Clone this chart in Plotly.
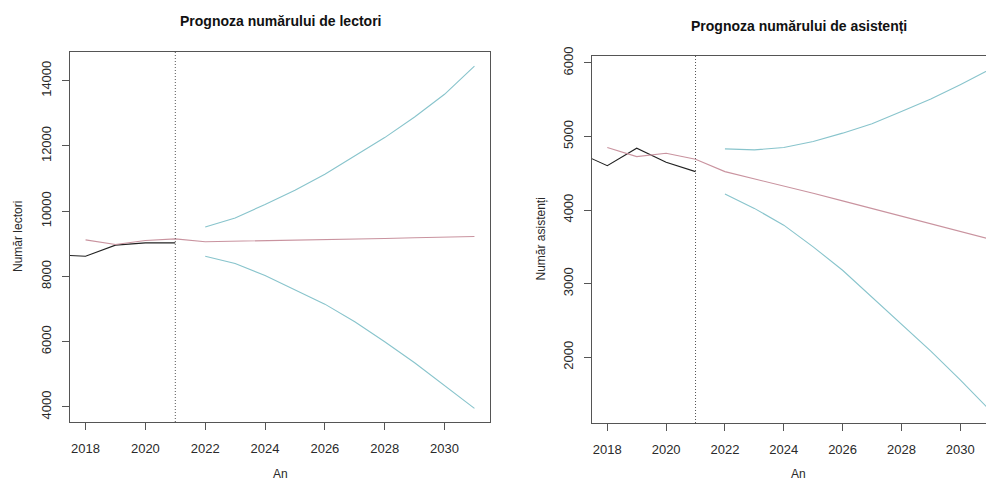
import plotly.graph_objects as go

# ---------------- data ----------------
years_actual = [2017, 2018, 2019, 2020, 2021]
years_fit = [2018, 2019, 2020, 2021, 2022, 2023, 2024, 2025, 2026, 2027, 2028, 2029, 2030, 2031]
years_fc = [2022, 2023, 2024, 2025, 2026, 2027, 2028, 2029, 2030, 2031]
forecast_start = 2021

lect_actual = [8660, 8622, 8960, 9030, 9030]
lect_fit = [9121, 8980, 9102, 9152, 9065, 9078, 9095, 9110, 9130, 9150, 9165, 9185, 9205, 9225]
lect_upper = [9519, 9795, 10205, 10643, 11133, 11684, 12257, 12889, 13584, 14450]
lect_lower = [8622, 8398, 8031, 7602, 7152, 6610, 5998, 5354, 4662, 3957]

asist_actual = [4785, 4604, 4841, 4650, 4523]
asist_fit = [4850, 4727, 4773, 4691, 4523, 4425, 4332, 4228, 4125, 4020, 3918, 3815, 3710, 3605]
asist_upper = [4832, 4818, 4850, 4932, 5046, 5173, 5341, 5510, 5705, 5910]
asist_lower = [4218, 4023, 3795, 3500, 3182, 2818, 2455, 2082, 1692, 1283]

x_ticks = [2018, 2020, 2022, 2024, 2026, 2028, 2030]
lect_yticks = [4000, 6000, 8000, 10000, 12000, 14000]
asist_yticks = [2000, 3000, 4000, 5000, 6000]

titles = ["Prognoza numărului de lectori", "Prognoza numărului de asistenți"]
ytitles = ["Număr lectori", "Număr asistenți"]
xtitle = "An"

# ---------------- style ----------------
W, H = 994, 482
OFF = 8  # page body offset
FONT = "Liberation Sans, Arial, sans-serif"
C_ACT = "#222222"
C_FIT = "#c9939f"
C_BAND = "#88c4cc"
C_AX = "#555555"
C_TXT = "#2a2a2a"


def px(x):
    return min(1.0, (x - OFF) / W)


def py(y):
    return 1 - (y - OFF) / H


fig = go.Figure()


def add_panel(i, actual, fit, upper, lower):
    xa = "x" if i == 0 else "x2"
    ya = "y" if i == 0 else "y2"
    fig.add_trace(go.Scatter(x=years_actual, y=actual, mode="lines",
                             line=dict(color=C_ACT, width=1.1), xaxis=xa, yaxis=ya))
    fig.add_trace(go.Scatter(x=years_fit, y=fit, mode="lines",
                             line=dict(color=C_FIT, width=1.1), xaxis=xa, yaxis=ya))
    fig.add_trace(go.Scatter(x=years_fc, y=upper, mode="lines",
                             line=dict(color=C_BAND, width=1.1), xaxis=xa, yaxis=ya))
    fig.add_trace(go.Scatter(x=years_fc, y=lower, mode="lines",
                             line=dict(color=C_BAND, width=1.1), xaxis=xa, yaxis=ya))
    fig.add_shape(type="line", xref=xa, yref=f"{ya} domain",
                  x0=forecast_start, x1=forecast_start, y0=0, y1=1,
                  line=dict(color="#555555", width=1, dash="1px,2px"))


add_panel(0, lect_actual, lect_fit, lect_upper, lect_lower)
add_panel(1, asist_actual, asist_fit, asist_upper, asist_lower)

tickfont = dict(family=FONT, size=13, color=C_TXT)
common_x = dict(tickmode="array", tickvals=x_ticks, ticks="outside", ticklen=7,
                tickcolor=C_AX, tickwidth=1, showgrid=False, zeroline=False,
                showline=True, linecolor=C_AX, linewidth=1, mirror=True,
                tickfont=tickfont, ticklabelstandoff=7, automargin=False,
                tickformat="d")
common_y = dict(tickmode="array", ticks="outside", ticklen=7, tickcolor=C_AX,
                tickwidth=1, showgrid=False, zeroline=False, showline=True,
                linecolor=C_AX, linewidth=1, tickangle=-90, tickfont=tickfont,
                ticklabelstandoff=6, automargin=False, tickformat="d", mirror=True)

fig.update_layout(
    width=W, height=H,
    margin=dict(l=0, r=0, t=0, b=0),
    paper_bgcolor="white", plot_bgcolor="white",
    showlegend=False,
    xaxis=dict(domain=[px(70), px(490)], range=[2017.48, 2031.52], anchor="y", **common_x),
    yaxis=dict(domain=[py(422), py(52)], range=[3540, 14880], anchor="x",
               tickvals=lect_yticks, **common_y),
    xaxis2=dict(domain=[px(592), 1.0], range=[2017.48, 2031.42], anchor="y2", **common_x),
    yaxis2=dict(domain=[py(423), py(56)], range=[1105, 6095], anchor="x2",
                tickvals=asist_yticks, **common_y),
)

ann = []
for xc, yc, t in [(280, 21, titles[0]), (798.5, 26, titles[1])]:
    ann.append(dict(x=px(xc), y=py(yc), text=f"<b>{t}</b>", xref="paper", yref="paper",
                    showarrow=False, xanchor="center", yanchor="middle",
                    font=dict(family=FONT, size=14, color="#111111")))
for xc in [280, 798.5]:
    ann.append(dict(x=px(xc), y=py(474), text=xtitle, xref="paper", yref="paper",
                    showarrow=False, xanchor="center", yanchor="middle",
                    font=dict(family=FONT, size=12, color=C_TXT)))
for xc, yc, t in [(18, 237, ytitles[0]), (540, 239.5, ytitles[1])]:
    ann.append(dict(x=px(xc), y=py(yc), text=t, textangle=-90, xref="paper", yref="paper",
                    showarrow=False, xanchor="center", yanchor="middle",
                    font=dict(family=FONT, size=12, color=C_TXT)))
fig.update_layout(annotations=ann)

fig.write_html("out.html")
